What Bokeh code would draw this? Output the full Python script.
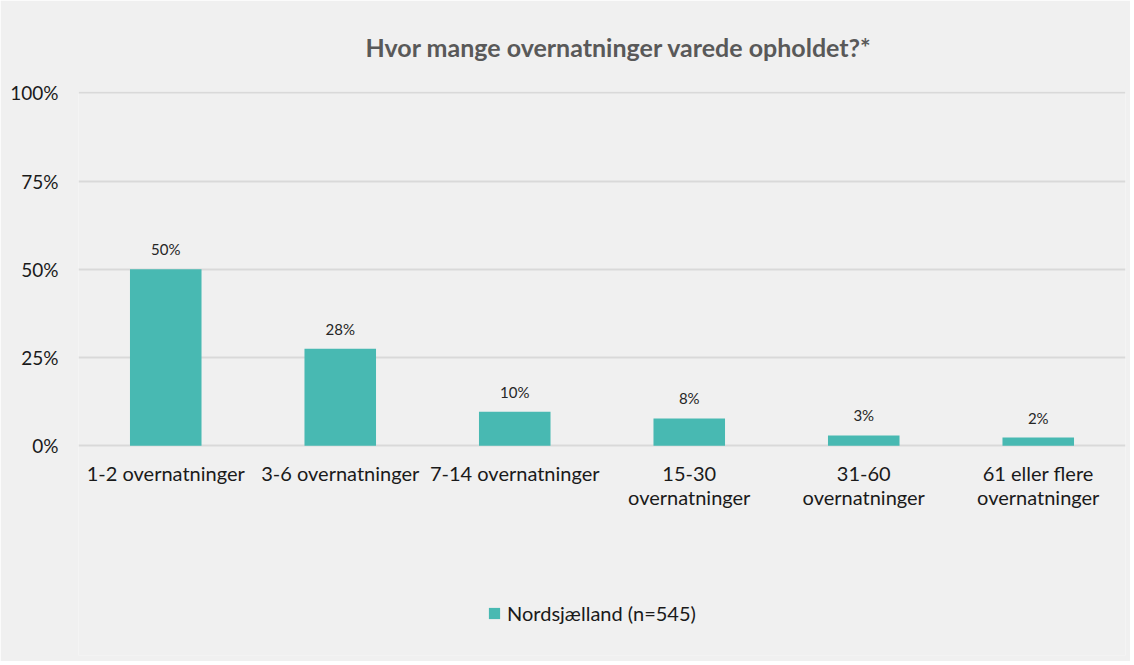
from bokeh.plotting import figure
from bokeh.models import ColumnDataSource, FactorRange, Range1d, Legend, LegendItem, NumeralTickFormatter, FixedTicker
from bokeh.embed import file_html
from bokeh.resources import INLINE

categories = ["1-2 overnatninger", "3-6 overnatninger", "7-14 overnatninger",
              "15-30\novernatninger", "31-60\novernatninger", "61 eller flere\novernatninger"]
values = [0.50, 0.275, 0.096, 0.077, 0.029, 0.023]
labels = [f"{round(v * 100)}%" for v in values]
series_name = "Nordsjælland (n=545)"
title_text = "Hvor mange overnatninger varede opholdet?*"

FONT = "Lato"
BG = "#f0f0f0"
BAR = "#48b9b2"

src = ColumnDataSource(dict(cat=categories, val=values, lab=labels, base=[0] * len(categories)))

p = figure(width=1130, height=661, x_range=FactorRange(*categories, range_padding=0.0),
           y_range=Range1d(-0.595, 1.004), output_backend="svg", toolbar_location=None,
           min_border_left=78, min_border_right=5, min_border_top=91, min_border_bottom=6)
p.background_fill_color = BG
p.border_fill_color = BG
p.outline_line_color = None

p.title.text = title_text
p.title.align = "left"
p.title.text_font = FONT
p.title.text_font_size = "25px"
p.title.text_font_style = "bold"
p.title.text_color = "#595959"
p.title.offset = 287
p.title.standoff = 59
p.title.text_line_height = 1.0

r = p.vbar(x="cat", top="val", width=0.41, source=src, fill_color=BAR, line_color=None)
p.text(x="cat", y="val", text="lab", source=src, text_align="center", text_baseline="bottom",
       y_offset=-11, text_font_size="15px", text_color="#262626", text_font={"value": FONT})
# category labels under the bars
p.text(x="cat", y="base", text="cat", source=src, text_align="center", text_baseline="top",
       y_offset=15, text_font_size="20px", text_color="#1a1a1a", text_font={"value": FONT},
       text_line_height=1.02)

p.yaxis.ticker = FixedTicker(ticks=[0, 0.25, 0.5, 0.75, 1.0])
p.yaxis.formatter = NumeralTickFormatter(format="0%")
p.yaxis.axis_line_color = None
p.yaxis.major_tick_line_color = None
p.yaxis.minor_tick_line_color = None
p.yaxis.major_label_text_font = FONT
p.yaxis.major_label_text_font_size = "19px"
p.yaxis.major_label_text_color = "#1a1a1a"
p.yaxis.major_label_standoff = 14

p.xaxis.visible = False

p.xgrid.grid_line_color = None
p.ygrid.grid_line_color = "#d9d9d9"
p.ygrid.grid_line_width = 2

legend = Legend(items=[LegendItem(label=series_name, renderers=[r])], location=(409, 30),
                orientation="horizontal", background_fill_alpha=0, border_line_color=None,
                label_text_font=FONT, label_text_font_size="20px", label_text_color="#1a1a1a",
                glyph_width=14, glyph_height=14, label_standoff=6, padding=4, margin=0)
p.add_layout(legend)

open("out.html", "w").write(file_html(p, INLINE))
